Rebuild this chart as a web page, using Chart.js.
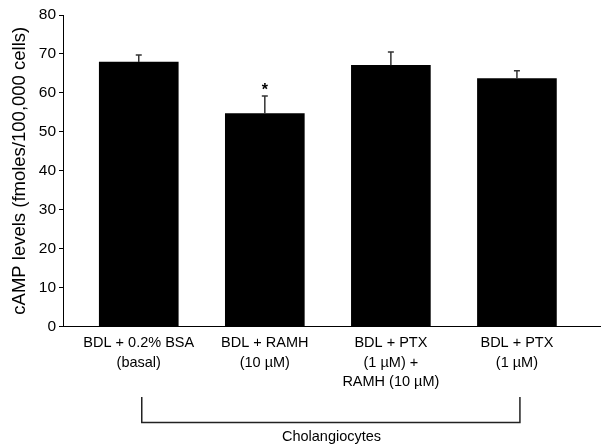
<!DOCTYPE html>
<html>
<head>
<meta charset="utf-8">
<script src="https://cdn.jsdelivr.net/npm/chart.js@4.4.1/dist/chart.umd.min.js"></script>
<style>
    html, body { margin: 0; padding: 0; background: #fff; }
    #wrap { width: 603px; height: 446px; }
</style>
</head>
<body>
<div id="wrap"><canvas id="campChart" width="603" height="446"></canvas></div>
<script>
// values (mean +/- SEM)
const categories = [
    ['BDL + 0.2% BSA', '(basal)'],
    ['BDL + RAMH', '(10 \u00b5M)'],
    ['BDL + PTX', '(1 \u00b5M) +', 'RAMH (10 \u00b5M)'],
    ['BDL + PTX', '(1 \u00b5M)']
];
const camp = [67.9, 54.7, 67.1, 63.7];
const campErr = [1.8, 4.5, 3.4, 2.0];
const marks = ['', '*', '', ''];
const yTicks = [0, 10, 20, 30, 40, 50, 60, 70, 80];
const groupLabel = 'Cholangiocytes';

const FONT = 'Liberation Sans, Arial, Helvetica, sans-serif';

// error bars + significance marks
const errorBars = {
    id: 'errorBars',
    afterDatasetsDraw(chart) {
        const { ctx, scales: { x, y } } = chart;
        ctx.save();
        ctx.strokeStyle = '#333';
        ctx.lineWidth = 1.5;
        camp.forEach((v, i) => {
            const px = x.getPixelForValue(i);
            const top = y.getPixelForValue(v + campErr[i]);
            const base = y.getPixelForValue(v);
            ctx.beginPath();
            ctx.moveTo(px, base);
            ctx.lineTo(px, top);
            ctx.moveTo(px - 3, top);
            ctx.lineTo(px + 3, top);
            ctx.stroke();
            if (marks[i]) {
                ctx.fillStyle = '#000';
                ctx.font = 'bold 16px ' + FONT;
                ctx.textAlign = 'center';
                ctx.textBaseline = 'alphabetic';
                ctx.fillText(marks[i], px, top - 1);
            }
        });
        ctx.restore();
    }
};

// bracket under the categories
const bracket = {
    id: 'bracket',
    afterDraw(chart) {
        const { ctx, scales: { x } } = chart;
        const x0 = x.getPixelForValue(0) + 3;
        const x1 = x.getPixelForValue(camp.length - 1) + 3;
        ctx.save();
        ctx.strokeStyle = '#222';
        ctx.lineWidth = 1.5;
        ctx.beginPath();
        ctx.moveTo(x0, 397);
        ctx.lineTo(x0, 422.5);
        ctx.lineTo(x1, 422.5);
        ctx.lineTo(x1, 397);
        ctx.stroke();
        ctx.restore();
    }
};

new Chart(document.getElementById('campChart'), {
    type: 'bar',
    data: {
        datasets: [{
            data: camp.map((v, i) => ({ x: i, y: v })),
            backgroundColor: '#000',
            borderWidth: 0,
            barThickness: 79
        }]
    },
    options: {
        responsive: false,
        animation: false,
        layout: { padding: { top: 15, right: 3, left: 0, bottom: 0 } },
        plugins: { legend: { display: false }, tooltip: { enabled: false } },
        scales: {
            x: {
                type: 'linear',
                offset: false,
                min: -0.601,
                max: 3.659,
                afterBuildTicks: s => { s.ticks = categories.map((c, i) => ({ value: i })); },
                afterFit: s => { s.height = 119.5; },
                border: { color: '#000', width: 1 },
                grid: { display: false, drawTicks: false, offset: false },
                ticks: {
                    autoSkip: false,
                    maxRotation: 0,
                    padding: 7,
                    color: '#000',
                    font: { family: FONT, size: 14.5, lineHeight: 1.34 },
                    callback: v => categories[v]
                },
                title: {
                    display: true,
                    text: groupLabel,
                    color: '#000',
                    font: { family: FONT, size: 14.5 },
                    padding: { top: 0, bottom: 0.5 }
                }
            },
            y: {
                min: 0,
                max: 80,
                afterBuildTicks: s => { s.ticks = yTicks.map(v => ({ value: v })); },
                afterFit: s => { s.width = 63; },
                border: { color: '#000', width: 1 },
                grid: { drawOnChartArea: false, tickLength: 4, color: '#000' },
                ticks: {
                    padding: 3,
                    color: '#000',
                    font: { family: FONT, size: 15.5 }
                },
                title: {
                    display: true,
                    text: 'cAMP levels (fmoles/100,000 cells)',
                    color: '#000',
                    font: { family: FONT, size: 18.5 },
                    padding: { top: 9, bottom: 0 }
                }
            }
        }
    },
    plugins: [errorBars, bracket]
});
</script>
</body>
</html>
